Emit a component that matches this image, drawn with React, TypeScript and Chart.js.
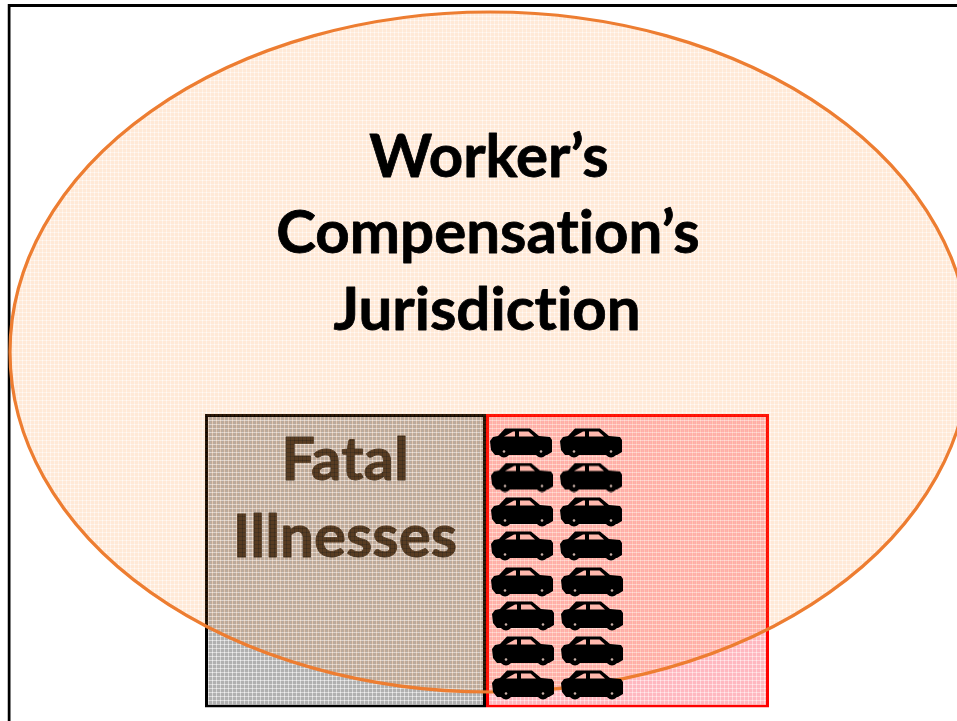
import React, { useEffect, useRef } from "react";
import { Chart, registerables } from "chart.js";

Chart.register(...registerables);

const WIDTH = 957;
const HEIGHT = 721;

const titleLines = ["Worker’s", "Compensation’s", "Jurisdiction"];
const titleX = [489, 488, 487];
const titleY = [177, 253, 330];
const fatalLines = ["Fatal", "Illnesses"];
const fatalX = [345, 345];
const fatalY = [480, 557];

const carRowY = [443, 477.5, 512, 546, 582, 616, 651, 685];
const carColA = [521, 522, 522, 522, 522, 523, 523, 523];
const carColB = [591, 591, 591, 591, 592, 592, 592, 592];

const greyBox = { x: 345.5, from: 414, to: 707.5, thick: 281 };
const redBox = { x: 627.5, from: 414, to: 707.5, thick: 283 };
const frameBox = { x: 1007.5, from: 4, to: 800, thick: 2000 };
const ellipseSpot = { x: 490, y: 352, rx: 480, ry: 340 };

function tile(cell: string, line: string, node: string) {
  const c = document.createElement("canvas");
  c.width = 4;
  c.height = 4;
  const g = c.getContext("2d")!;
  g.fillStyle = cell;
  g.fillRect(0, 0, 4, 4);
  g.clearRect(0, 0, 4, 1);
  g.clearRect(0, 0, 1, 4);
  g.fillStyle = line;
  g.fillRect(0, 0, 4, 1);
  g.fillRect(0, 0, 1, 4);
  g.clearRect(0, 0, 1, 1);
  g.fillStyle = node;
  g.fillRect(0, 0, 1, 1);
  return c;
}

function makeEllipse() {
  const { rx, ry } = ellipseSpot;
  const c = document.createElement("canvas");
  c.width = rx * 2 + 8;
  c.height = ry * 2 + 8;
  const g = c.getContext("2d")!;
  g.beginPath();
  g.ellipse(rx + 4, ry + 4, rx, ry, 0, 0, Math.PI * 2);
  g.fillStyle = g.createPattern(
    tile("rgba(255,140,40,0.19)", "rgba(255,140,40,0.11)", "rgba(255,140,40,0.04)"),
    "repeat"
  )!;
  g.fill();
  g.lineWidth = 3.2;
  g.strokeStyle = "#ED7D31";
  g.stroke();
  return c;
}

function makeCar() {
  const c = document.createElement("canvas");
  c.width = 62;
  c.height = 30;
  const g = c.getContext("2d")!;
  g.fillStyle = "#000";
  g.beginPath();
  g.moveTo(15, 0.5);
  g.lineTo(40, 0.5);
  g.lineTo(49, 8);
  g.lineTo(60, 9);
  g.lineTo(62, 12);
  g.lineTo(62, 24);
  g.lineTo(57, 27);
  g.lineTo(5, 27);
  g.lineTo(1, 22);
  g.lineTo(0, 13);
  g.lineTo(3, 9);
  g.lineTo(8, 8);
  g.closePath();
  g.fill();
  [14, 51].forEach((x) => {
    g.fillStyle = "#000";
    g.beginPath();
    g.arc(x, 23.5, 6, 0, Math.PI * 2);
    g.fill();
    g.fillStyle = "#c9b0a8";
    g.beginPath();
    g.arc(x, 23.5, 1.3, 0, Math.PI * 2);
    g.fill();
  });
  g.fillStyle = "#FFB9AE";
  g.beginPath();
  g.moveTo(14, 8.5);
  g.lineTo(23, 3.5);
  g.lineTo(25, 3.5);
  g.lineTo(25, 8.5);
  g.closePath();
  g.fill();
  g.beginPath();
  g.moveTo(29, 3.5);
  g.lineTo(38.5, 3.5);
  g.lineTo(44, 8.5);
  g.lineTo(29, 8.5);
  g.closePath();
  g.fill();
  return c;
}

const FONT = '700 60px Lato, "Open Sans", sans-serif';

function setText(ctx: any, color: string) {
  ctx.font = FONT;
  ctx.letterSpacing = "0.01px";
  ctx.textAlign = "center";
  ctx.textBaseline = "alphabetic";
  ctx.fillStyle = color;
  ctx.strokeStyle = color;
  ctx.lineWidth = 0.8;
  ctx.lineJoin = "round";
}

function drawLines(chart: any, lines: string[], xs: number[], ys: number[]) {
  const { ctx, scales } = chart;
  lines.forEach((t, i) => {
    const px = scales.x.getPixelForValue(xs[i]);
    const py = scales.y.getPixelForValue(ys[i]);
    ctx.fillText(t, px, py);
    ctx.strokeText(t, px, py);
  });
}

const labelPlugin = {
  id: "labelPlugin",
  afterDatasetDraw(chart: any, args: any) {
    if (args.index !== 1) return;
    chart.ctx.save();
    setText(chart.ctx, "rgb(50,42,32)");
    drawLines(chart, fatalLines, fatalX, fatalY);
    chart.ctx.restore();
  },
  afterDatasetsDraw(chart: any) {
    chart.ctx.save();
    setText(chart.ctx, "#000");
    drawLines(chart, titleLines, titleX, titleY);
    chart.ctx.restore();
  },
};

export default function App() {
  const ref = useRef<HTMLCanvasElement>(null);
  useEffect(() => {
    const g = ref.current!.getContext("2d")!;
    const greyFill = g.createPattern(tile("#B0B0B0", "#D8D8D8", "#F0F0F0"), "repeat")!;
    const redFill = g.createPattern(tile("#FFB8C0", "#FFD6DA", "#FFECEE"), "repeat")!;
    const car = makeCar();
    const carPoints = carRowY.flatMap((y, i) => [
      { x: carColA[i], y },
      { x: carColB[i], y },
    ]);
    const barCommon = { type: "bar", grouped: false, borderSkipped: false, inflateAmount: 0, clip: false };
    const chart = new Chart(ref.current!, {
      type: "bar",
      data: {
        datasets: [
          {
            ...barCommon,
            label: "Frame",
            order: 5,
            data: [{ x: frameBox.x, y: [frameBox.from, frameBox.to] }],
            barThickness: frameBox.thick,
            backgroundColor: "rgba(0,0,0,0)",
            borderColor: "#000",
            borderWidth: 3,
          },
          {
            ...barCommon,
            label: "Fatal Illnesses",
            order: 4,
            data: [{ x: greyBox.x, y: [greyBox.from, greyBox.to] }],
            barThickness: greyBox.thick,
            backgroundColor: greyFill,
            borderColor: "#000",
            borderWidth: 3,
          },
          {
            ...barCommon,
            label: "Motor vehicle",
            order: 3,
            data: [{ x: redBox.x, y: [redBox.from, redBox.to] }],
            barThickness: redBox.thick,
            backgroundColor: redFill,
            borderColor: "#FF0000",
            borderWidth: 3,
          },
          {
            type: "scatter",
            label: "Worker’s Compensation’s Jurisdiction",
            order: 2,
            clip: false,
            data: [{ x: ellipseSpot.x, y: ellipseSpot.y }],
            pointStyle: makeEllipse(),
            pointRadius: 10,
          },
          {
            type: "scatter",
            label: "Cars",
            order: 1,
            clip: false,
            data: carPoints,
            pointStyle: car,
            pointRadius: 10,
          },
        ] as any,
      },
      options: {
        responsive: false,
        animation: false,
        layout: { padding: 0, autoPadding: false },
        events: [],
        plugins: { legend: { display: false }, tooltip: { enabled: false }, title: { display: false } },
        scales: {
          x: { type: "linear", min: 0, max: WIDTH, display: false, offset: false, grid: { display: false } },
          y: { type: "linear", min: 0, max: HEIGHT, reverse: true, display: false, grid: { display: false } },
        },
      } as any,
      plugins: [labelPlugin as any],
    });
    return () => chart.destroy();
  }, []);
  return (
    <div style={{ position: "fixed", left: 0, top: 0, width: WIDTH, height: HEIGHT, background: "#fff" }}>
      <canvas ref={ref} width={WIDTH} height={HEIGHT} style={{ display: "block" }} />
    </div>
  );
}
